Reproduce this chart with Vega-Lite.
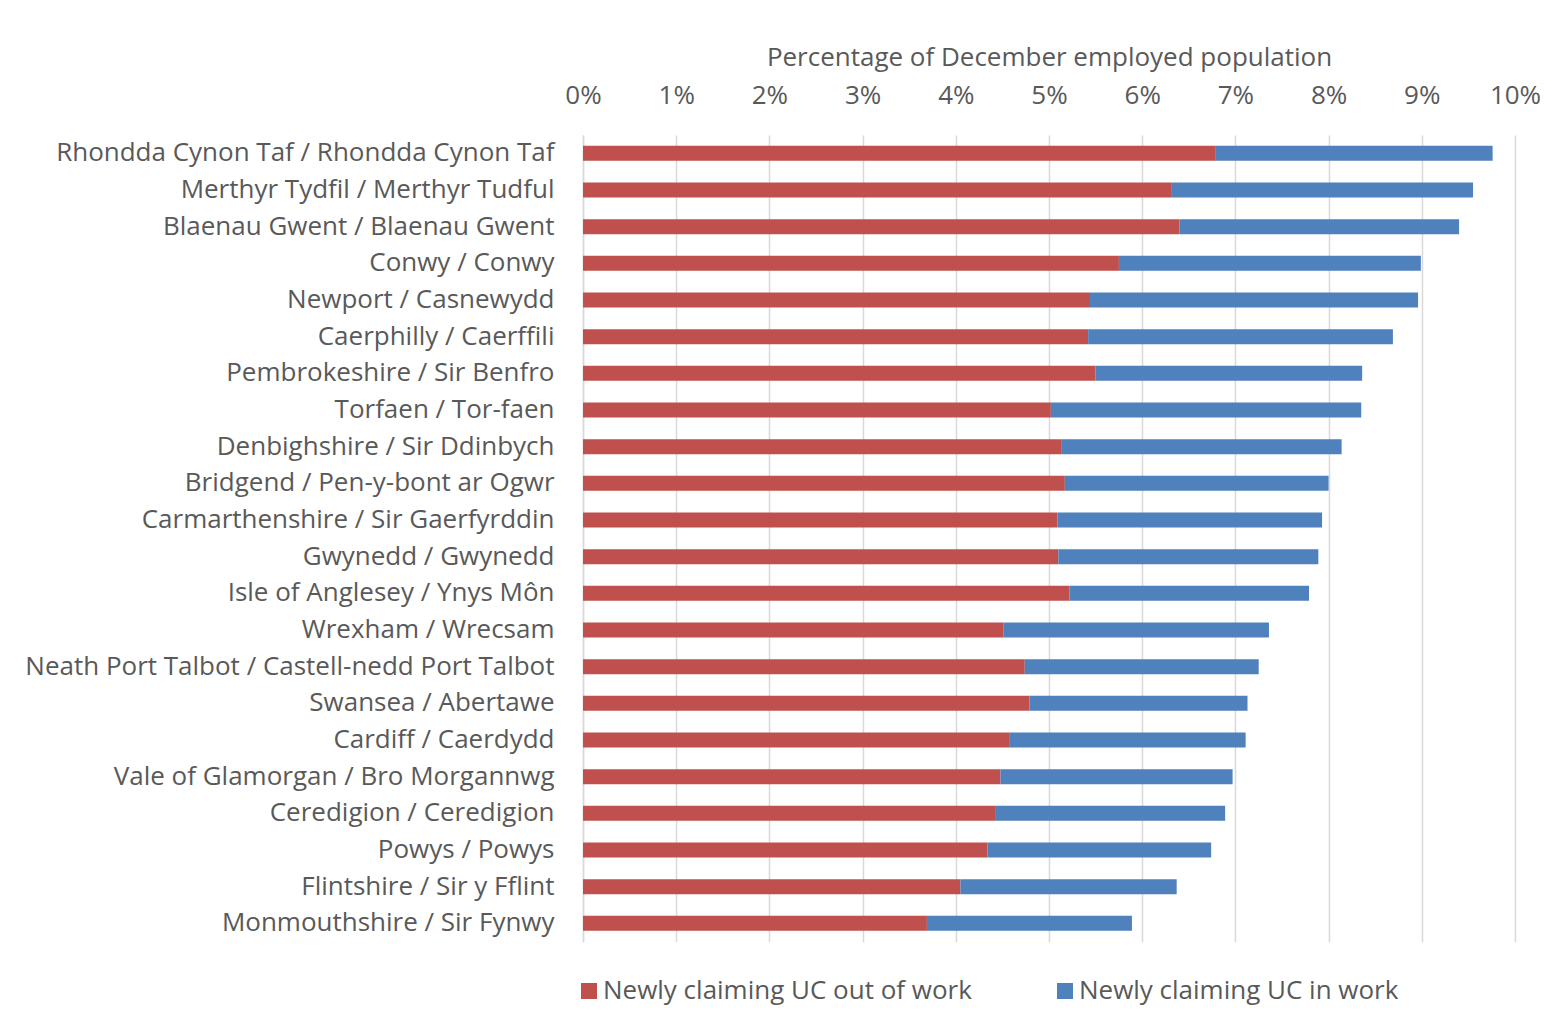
{
  "$schema": "https://vega.github.io/schema/vega-lite/v6.json",
  "autosize": "none",
  "width": 932,
  "height": 806.67,
  "padding": {"left": 583, "top": 135, "right": 38, "bottom": 80},
  "background": "white",
  "config": {
    "view": {"stroke": null},
    "font": "Open Sans",
    "text": {"font": "Open Sans"}
  },
  "data": {
    "values": [
      {"region": "Rhondda Cynon Taf / Rhondda Cynon Taf", "series": "Newly claiming UC out of work", "k": 1, "value": 0.0679},
      {"region": "Rhondda Cynon Taf / Rhondda Cynon Taf", "series": "Newly claiming UC in work", "k": 2, "value": 0.0297},
      {"region": "Merthyr Tydfil / Merthyr Tudful", "series": "Newly claiming UC out of work", "k": 1, "value": 0.0631},
      {"region": "Merthyr Tydfil / Merthyr Tudful", "series": "Newly claiming UC in work", "k": 2, "value": 0.0324},
      {"region": "Blaenau Gwent / Blaenau Gwent", "series": "Newly claiming UC out of work", "k": 1, "value": 0.0640},
      {"region": "Blaenau Gwent / Blaenau Gwent", "series": "Newly claiming UC in work", "k": 2, "value": 0.0300},
      {"region": "Conwy / Conwy", "series": "Newly claiming UC out of work", "k": 1, "value": 0.0575},
      {"region": "Conwy / Conwy", "series": "Newly claiming UC in work", "k": 2, "value": 0.0324},
      {"region": "Newport / Casnewydd", "series": "Newly claiming UC out of work", "k": 1, "value": 0.0544},
      {"region": "Newport / Casnewydd", "series": "Newly claiming UC in work", "k": 2, "value": 0.0352},
      {"region": "Caerphilly / Caerffili", "series": "Newly claiming UC out of work", "k": 1, "value": 0.0542},
      {"region": "Caerphilly / Caerffili", "series": "Newly claiming UC in work", "k": 2, "value": 0.0327},
      {"region": "Pembrokeshire / Sir Benfro", "series": "Newly claiming UC out of work", "k": 1, "value": 0.0550},
      {"region": "Pembrokeshire / Sir Benfro", "series": "Newly claiming UC in work", "k": 2, "value": 0.0286},
      {"region": "Torfaen / Tor-faen", "series": "Newly claiming UC out of work", "k": 1, "value": 0.0502},
      {"region": "Torfaen / Tor-faen", "series": "Newly claiming UC in work", "k": 2, "value": 0.0333},
      {"region": "Denbighshire / Sir Ddinbych", "series": "Newly claiming UC out of work", "k": 1, "value": 0.0513},
      {"region": "Denbighshire / Sir Ddinbych", "series": "Newly claiming UC in work", "k": 2, "value": 0.0301},
      {"region": "Bridgend / Pen-y-bont ar Ogwr", "series": "Newly claiming UC out of work", "k": 1, "value": 0.0517},
      {"region": "Bridgend / Pen-y-bont ar Ogwr", "series": "Newly claiming UC in work", "k": 2, "value": 0.0283},
      {"region": "Carmarthenshire / Sir Gaerfyrddin", "series": "Newly claiming UC out of work", "k": 1, "value": 0.0509},
      {"region": "Carmarthenshire / Sir Gaerfyrddin", "series": "Newly claiming UC in work", "k": 2, "value": 0.0284},
      {"region": "Gwynedd / Gwynedd", "series": "Newly claiming UC out of work", "k": 1, "value": 0.0510},
      {"region": "Gwynedd / Gwynedd", "series": "Newly claiming UC in work", "k": 2, "value": 0.0279},
      {"region": "Isle of Anglesey / Ynys Môn", "series": "Newly claiming UC out of work", "k": 1, "value": 0.0522},
      {"region": "Isle of Anglesey / Ynys Môn", "series": "Newly claiming UC in work", "k": 2, "value": 0.0257},
      {"region": "Wrexham / Wrecsam", "series": "Newly claiming UC out of work", "k": 1, "value": 0.0451},
      {"region": "Wrexham / Wrecsam", "series": "Newly claiming UC in work", "k": 2, "value": 0.0285},
      {"region": "Neath Port Talbot / Castell-nedd Port Talbot", "series": "Newly claiming UC out of work", "k": 1, "value": 0.0474},
      {"region": "Neath Port Talbot / Castell-nedd Port Talbot", "series": "Newly claiming UC in work", "k": 2, "value": 0.0251},
      {"region": "Swansea / Abertawe", "series": "Newly claiming UC out of work", "k": 1, "value": 0.0479},
      {"region": "Swansea / Abertawe", "series": "Newly claiming UC in work", "k": 2, "value": 0.0234},
      {"region": "Cardiff / Caerdydd", "series": "Newly claiming UC out of work", "k": 1, "value": 0.0458},
      {"region": "Cardiff / Caerdydd", "series": "Newly claiming UC in work", "k": 2, "value": 0.0253},
      {"region": "Vale of Glamorgan / Bro Morgannwg", "series": "Newly claiming UC out of work", "k": 1, "value": 0.0448},
      {"region": "Vale of Glamorgan / Bro Morgannwg", "series": "Newly claiming UC in work", "k": 2, "value": 0.0249},
      {"region": "Ceredigion / Ceredigion", "series": "Newly claiming UC out of work", "k": 1, "value": 0.0443},
      {"region": "Ceredigion / Ceredigion", "series": "Newly claiming UC in work", "k": 2, "value": 0.0246},
      {"region": "Powys / Powys", "series": "Newly claiming UC out of work", "k": 1, "value": 0.0434},
      {"region": "Powys / Powys", "series": "Newly claiming UC in work", "k": 2, "value": 0.0240},
      {"region": "Flintshire / Sir y Fflint", "series": "Newly claiming UC out of work", "k": 1, "value": 0.0405},
      {"region": "Flintshire / Sir y Fflint", "series": "Newly claiming UC in work", "k": 2, "value": 0.0232},
      {"region": "Monmouthshire / Sir Fynwy", "series": "Newly claiming UC out of work", "k": 1, "value": 0.0369},
      {"region": "Monmouthshire / Sir Fynwy", "series": "Newly claiming UC in work", "k": 2, "value": 0.0220}
    ]
  },
  "mark": {"type": "bar"},
  "encoding": {
    "y": {
      "field": "region",
      "type": "nominal",
      "sort": null,
      "scale": {"paddingInner": 0.59, "paddingOuter": 0.295},
      "axis": {
        "title": null,
        "ticks": false,
        "domain": true,
        "domainColor": "#d9d9d9",
        "domainWidth": 1.5,
        "labelFont": "Open Sans",
        "labelFontSize": 26,
        "labelColor": "#595959",
        "labelPadding": 29,
        "labelLimit": 0
      }
    },
    "x": {
      "field": "value",
      "type": "quantitative",
      "stack": "zero",
      "scale": {"domain": [0, 0.1], "nice": false},
      "axis": {
        "orient": "top",
        "title": "Percentage of December employed population",
        "titleFont": "Open Sans",
        "titleFontSize": 26,
        "titleFontWeight": "normal",
        "titleColor": "#595959",
        "titlePadding": 12,
        "values": [0, 0.01, 0.02, 0.03, 0.04, 0.05, 0.06, 0.07, 0.08, 0.09, 0.1],
        "format": ".0%",
        "grid": true,
        "gridColor": "#d9d9d9",
        "gridWidth": 1.5,
        "domain": false,
        "ticks": false,
        "labelFont": "Open Sans",
        "labelFontSize": 26,
        "labelColor": "#595959",
        "labelPadding": 26,
        "labelFlush": false
      }
    },
    "color": {
      "field": "series",
      "type": "nominal",
      "scale": {
        "domain": ["Newly claiming UC out of work", "Newly claiming UC in work"],
        "range": ["#C0504D", "#4F81BD"]
      },
      "legend": {
        "title": null,
        "orient": "none",
        "legendX": -7,
        "legendY": 843,
        "direction": "horizontal",
        "symbolType": "square",
        "symbolSize": 256,
        "symbolStrokeWidth": 0,
        "labelFont": "Open Sans",
        "labelFontSize": 26,
        "labelColor": "#595959",
        "labelOffset": 1,
        "labelLimit": 0,
        "columnPadding": 79
      }
    },
    "order": {"field": "k", "type": "quantitative"}
  }
}
